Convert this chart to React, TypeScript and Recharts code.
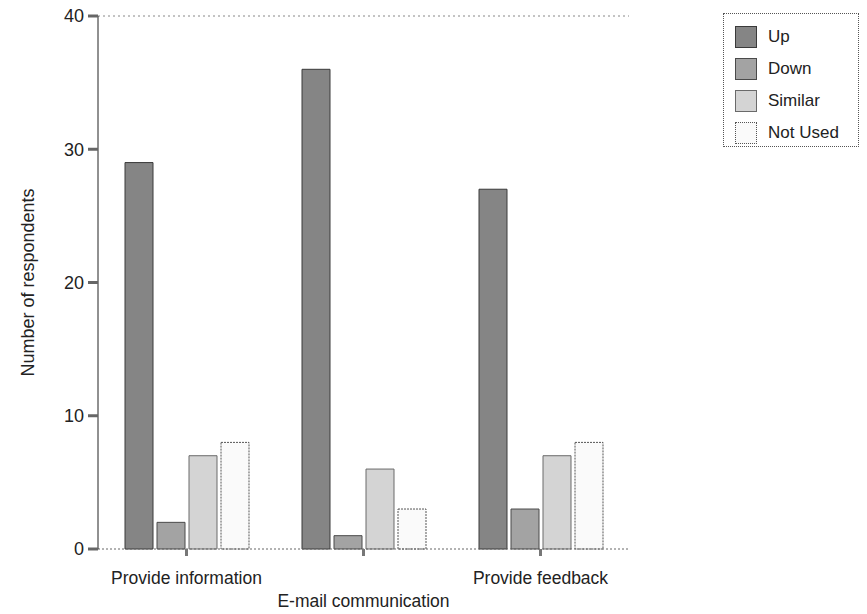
import { Bar, BarChart, XAxis, YAxis, Legend, ReferenceLine } from "recharts"

const categories = ["Provide information", "E-mail communication", "Provide feedback"]
const up = [29, 36, 27]
const down = [2, 1, 3]
const similar = [7, 6, 7]
const notUsed = [8, 3, 8]
const yTicks = [0, 10, 20, 30, 40]

const data = categories.map((name, i) => ({
  name,
  up: up[i],
  down: down[i],
  similar: similar[i],
  notUsed: notUsed[i],
}))

const FONT = "'Liberation Sans', Arial, sans-serif"

const series = [
  { key: "up", label: "Up", fill: "#858585", stroke: "#3a3a3a", dash: undefined },
  { key: "down", label: "Down", fill: "#a3a3a3", stroke: "#4a4a4a", dash: undefined },
  { key: "similar", label: "Similar", fill: "#d4d4d4", stroke: "#6a6a6a", dash: undefined },
  { key: "notUsed", label: "Not Used", fill: "#fafafa", stroke: "#555", dash: "2 1" },
]

function CategoryTick(props: any) {
  const { x, y, payload, index } = props
  // middle label sits one row lower, like the original staggered labels
  const dy = index === 1 ? 49 : 26
  return (
    <text x={x} y={y + dy} textAnchor="middle" fontSize={17.5} fontFamily={FONT} fill="#222">
      {payload.value}
    </text>
  )
}

function LegendBox() {
  return (
    <div
      style={{
        width: 136,
        height: 134,
        boxSizing: "border-box",
        border: "1px dotted #555",
        fontFamily: FONT,
        fontSize: 17,
        color: "#222",
        paddingTop: 7,
      }}
    >
      {series.map((s) => (
        <div key={s.key} style={{ display: "flex", alignItems: "center", height: 32, paddingLeft: 11 }}>
          <span
            style={{
              display: "inline-block",
              width: 22,
              height: 22,
              boxSizing: "border-box",
              background: s.fill,
              border: `1px ${s.dash ? "dotted" : "solid"} ${s.stroke}`,
              marginRight: 11,
            }}
          />
          <span>{s.label}</span>
        </div>
      ))}
    </div>
  )
}

export default function App() {
  return (
    <div style={{ position: "absolute", left: 0, top: 0, width: 867, height: 614, background: "#fff" }}>
      <BarChart
        width={867}
        height={614}
        data={data}
        margin={{ top: 16, right: 102, bottom: 20, left: 0 }}
        barSize={28}
        barGap={4}
      >
        <XAxis
          dataKey="name"
          interval={0}
          height={45}
          tick={<CategoryTick />}
          tickSize={7}
          tickMargin={2}
          tickLine={{ stroke: "#777", strokeWidth: 3 }}
          axisLine={{ stroke: "#666", strokeDasharray: "2 2" }}
        />
        <YAxis
          width={98}
          domain={[0, 40]}
          ticks={yTicks}
          tickSize={10}
          tickMargin={4}
          tickLine={{ stroke: "#666", strokeWidth: 3 }}
          axisLine={{ stroke: "#222", strokeWidth: 1 }}
          tick={{ fontSize: 18, fontFamily: FONT, fill: "#222" }}
          label={{
            value: "Number of respondents",
            angle: -90,
            position: "insideLeft",
            offset: 28,
            style: { textAnchor: "middle", fontSize: 18, fontFamily: FONT, fill: "#222" },
          }}
        />
        <YAxis
          yAxisId="right"
          orientation="right"
          width={0}
          domain={[0, 40]}
          tick={false}
          tickLine={false}
          axisLine={{ stroke: "#666", strokeDasharray: "2 2" }}
        />
        <ReferenceLine y={40} stroke="#888" strokeDasharray="2 3" />
        <Legend
          layout="vertical"
          align="right"
          verticalAlign="top"
          content={<LegendBox />}
          wrapperStyle={{ position: "absolute", left: 723, top: 13, width: 136, height: 134 }}
        />
        {series.map((s) => (
          <Bar
            key={s.key}
            dataKey={s.key}
            name={s.label}
            fill={s.fill}
            stroke={s.stroke}
            strokeWidth={1}
            strokeDasharray={s.dash}
            isAnimationActive={false}
          />
        ))}
      </BarChart>
    </div>
  )
}
